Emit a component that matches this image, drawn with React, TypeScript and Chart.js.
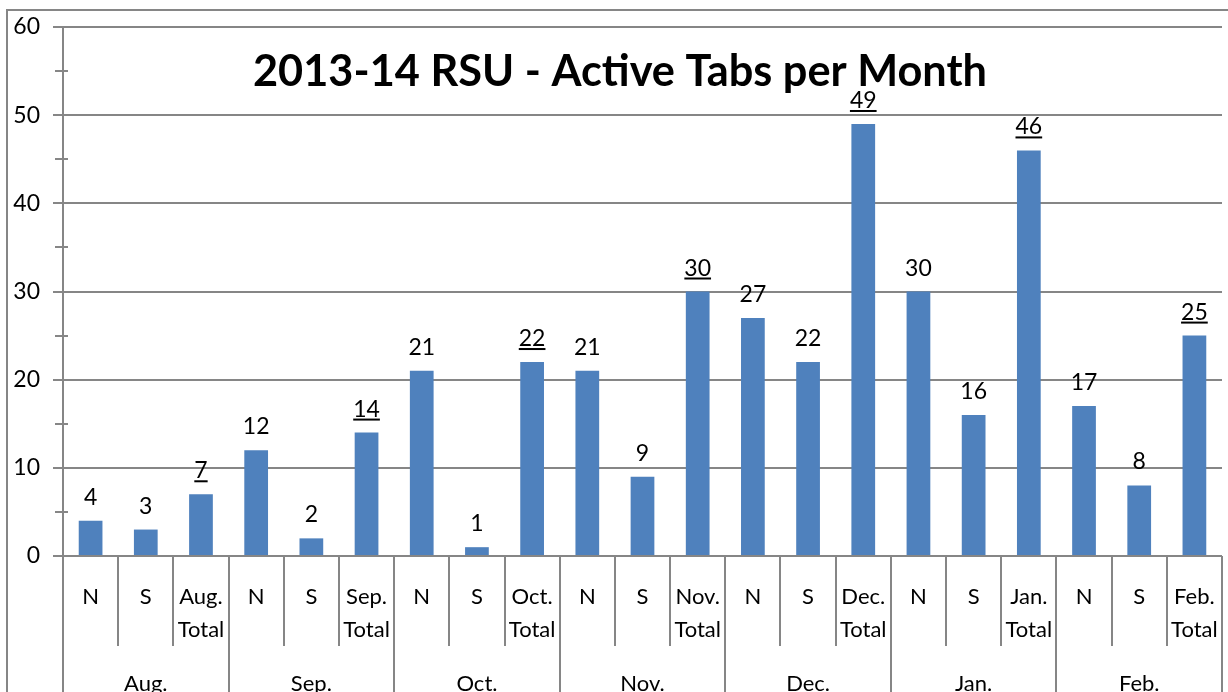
import React, { useEffect, useRef } from "react";
import { Chart, registerables } from "chart.js";

Chart.register(...registerables);

const months = ["Aug.", "Sep.", "Oct.", "Nov.", "Dec.", "Jan.", "Feb."];
const northValues = [4, 12, 21, 21, 27, 30, 17];
const southValues = [3, 2, 1, 9, 22, 16, 8];
const totalValues = [7, 14, 22, 30, 49, 46, 25];
const titleText = "2013-14 RSU - Active Tabs per Month";

const W = 1228;
const H = 700;
const LINE = "#868686";
const FONT = "Lato, 'DejaVu Sans', sans-serif";

const labels: string[][] = [];
const values: number[] = [];
const isTotal: boolean[] = [];
months.forEach((m, i) => {
  labels.push(["N"]);
  values.push(northValues[i]);
  isTotal.push(false);
  labels.push(["S"]);
  values.push(southValues[i]);
  isTotal.push(false);
  labels.push([m, "Total"]);
  values.push(totalValues[i]);
  isTotal.push(true);
});

const decorPlugin = {
  id: "decor",
  beforeDraw(chart: any) {
    const ctx = chart.ctx;
    ctx.save();
    ctx.fillStyle = "#ffffff";
    ctx.fillRect(0, 0, W, H);
    ctx.restore();
  },
  afterDatasetsDraw(chart: any) {
    const ctx = chart.ctx;
    const meta = chart.getDatasetMeta(0);
    ctx.save();
    ctx.font = `23px ${FONT}`;
    ctx.fillStyle = "#000000";
    ctx.textAlign = "center";
    ctx.textBaseline = "alphabetic";
    meta.data.forEach((bar: any, i: number) => {
      const txt = String(values[i]);
      const base = bar.y - 16;
      ctx.fillText(txt, bar.x, base);
      if (isTotal[i]) {
        const w = ctx.measureText(txt).width;
        ctx.fillRect(bar.x - w / 2, base + 2, w, 2);
      }
    });
    ctx.restore();
  },
  afterDraw(chart: any) {
    const ctx = chart.ctx;
    const area = chart.chartArea;
    const xs = chart.scales.x;
    const n = labels.length;
    const catW = (xs.right - xs.left) / n;
    ctx.save();
    ctx.strokeStyle = LINE;
    ctx.lineWidth = 2;
    // outer chart border (top and left)
    ctx.beginPath();
    ctx.moveTo(7, H);
    ctx.lineTo(7, 10);
    ctx.lineTo(W, 10);
    ctx.stroke();
    // y axis line extended
    ctx.beginPath();
    ctx.moveTo(area.left, area.top);
    ctx.lineTo(area.left, H);
    ctx.stroke();
    // minor ticks at 5s
    const ys = chart.scales.y;
    for (let v = 5; v < 60; v += 10) {
      const y = Math.round(ys.getPixelForValue(v));
      ctx.beginPath();
      ctx.moveTo(area.left - 8, y);
      ctx.lineTo(area.left + 5, y);
      ctx.stroke();
    }
    // category separators
    for (let i = 1; i <= n; i++) {
      const x = Math.round(xs.left + i * catW);
      const group = i % 3 === 0;
      ctx.beginPath();
      ctx.moveTo(x, area.bottom);
      ctx.lineTo(x, group ? H : 646);
      ctx.stroke();
    }
    // sub labels
    ctx.fillStyle = "#000000";
    ctx.font = `22px ${FONT}`;
    ctx.textAlign = "center";
    ctx.textBaseline = "alphabetic";
    labels.forEach((lines, i) => {
      const cx = xs.getPixelForValue(i);
      lines.forEach((t, j) => ctx.fillText(t, cx, 604 + j * 33));
    });
    // group labels
    months.forEach((m, g) => {
      const cx = xs.left + (g * 3 + 1.5) * catW;
      ctx.fillText(m, cx, 691);
    });
    // title
    ctx.font = `bold 44px ${FONT}`;
    const tw = ctx.measureText(titleText).width;
    const target = 734;
    const sx = target / tw;
    ctx.translate(620, 86);
    ctx.scale(sx, 1);
    ctx.fillText(titleText, 0, 0);
    ctx.restore();
  },
};

export default function App() {
  const ref = useRef<HTMLCanvasElement | null>(null);
  useEffect(() => {
    if (!ref.current) return;
    const chart = new Chart(ref.current, {
      type: "bar",
      data: {
        labels: labels,
        datasets: [
          {
            data: values,
            backgroundColor: "#4F81BD",
            borderWidth: 0,
            barPercentage: 0.43,
            categoryPercentage: 1,
          },
        ],
      },
      options: {
        animation: false,
        responsive: false,
        devicePixelRatio: 1,
        layout: { padding: { left: 0, top: 27, right: 6, bottom: H - 556 } },
        plugins: {
          legend: { display: false },
          title: { display: false },
          tooltip: { enabled: false },
        },
        scales: {
          x: { display: false },
          y: {
            min: 0,
            max: 60,
            ticks: {
              stepSize: 10,
              padding: 13,
              color: "#000000",
              font: { family: FONT, size: 23 },
            },
            grid: { color: LINE, lineWidth: 2, tickLength: 10, drawTicks: true },
            border: { display: false },
            afterFit: (scale: any) => {
              scale.width = 63;
            },
          },
        },
      },
      plugins: [decorPlugin],
    });
    return () => chart.destroy();
  }, []);
  return (
    <div
      style={{
        position: "fixed",
        left: 0,
        top: 0,
        width: W,
        height: 692,
        overflow: "hidden",
        background: "#fff",
      }}
    >
      <canvas ref={ref} width={W} height={H} style={{ display: "block", width: W, height: H }} />
    </div>
  );
}
